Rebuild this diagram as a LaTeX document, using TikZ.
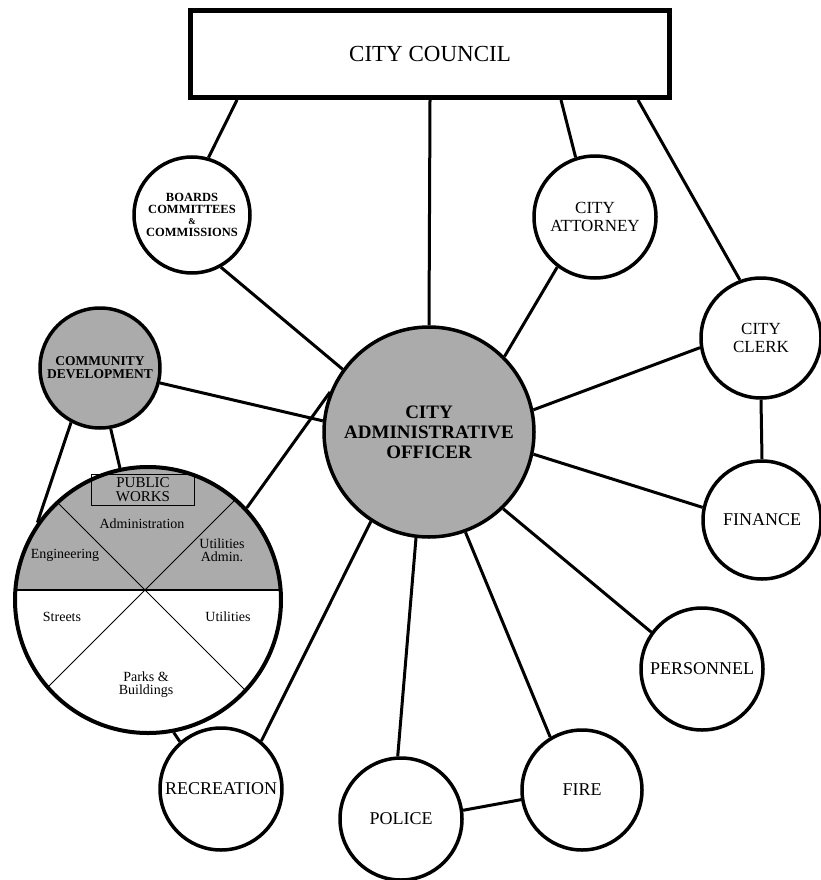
\documentclass[tikz,border=0pt]{standalone}
\usepackage{fontspec}
\setmainfont{Liberation Serif}

\begin{document}
\begin{tikzpicture}[x=1pt,y=-1pt,line width=3pt,
  unit node/.style={circle,draw,fill=white,line width=3.5pt,inner sep=0pt,align=center,font=\fontsize{18}{15.5}\selectfont},
  shaded node/.style={unit node,fill=black!33},
  part text/.style={inner sep=0pt,align=center,font=\fontsize{14}{13}\selectfont}]
  \useasboundingbox (0,0) rectangle (820,880);

  % the upper half of public works is shaded
  \begin{scope}
    \clip (148,600) circle (133pt);
    \fill[black!33] (0,400) rectangle (300,590);
    \draw[line width=2pt] (0,590) -- (300,590);
    \draw[line width=1pt] (145,590) ++(-150,-150) -- ++(300,300);
    \draw[line width=1pt] (145,590) ++(-150,150) -- ++(300,-300);
  \end{scope}

  \node[draw,line width=5pt,minimum width=479pt,minimum height=87pt,font=\fontsize{23}{23}\selectfont] (council) at (430,54) {CITY COUNCIL};
  \node[unit node,minimum size=116pt,font=\bfseries\fontsize{12.5}{11.5}\selectfont] (boards) at (192,215) {BOARDS\\COMMITTEES\\{\fontsize{9}{9}\selectfont\&}\\COMMISSIONS};
  \node[unit node,minimum size=122pt,font=\fontsize{17}{17.5}\selectfont] (attorney) at (595,217) {CITY\\ATTORNEY};
  \node[unit node,minimum size=120pt,font=\fontsize{17}{17.5}\selectfont] (clerk) at (761,338) {CITY\\CLERK};
  \node[shaded node,minimum size=120pt,font=\bfseries\fontsize{13.5}{13}\selectfont] (cd) at (100,368) {COMMUNITY\\DEVELOPMENT};
  \node[shaded node,minimum size=210pt,font=\bfseries\fontsize{19}{20}\selectfont] (cao) at (429,432) {CITY\\ADMINISTRATIVE\\OFFICER};
  \node[unit node,minimum size=118pt] (finance) at (762,520) {FINANCE};
  \node[unit node,minimum size=266pt,fill=none,line width=4pt] (pw) at (148,600) {};
  \node[unit node,minimum size=122pt] (personnel) at (702,669) {PERSONNEL};
  \node[unit node,minimum size=122pt] (rec) at (221,789) {RECREATION};
  \node[unit node,minimum size=122pt] (police) at (401,819) {POLICE};
  \node[unit node,minimum size=120pt] (fire) at (582,790) {FIRE};

  % divisions of public works
  \node[draw,line width=1.5pt,minimum width=103pt,minimum height=31pt,inner sep=1pt,align=center,font=\fontsize{15}{14}\selectfont] (pwtitle) at (143,490) {PUBLIC\\WORKS};
  \node[part text] (admin) at (142,524) {Administration};
  \node[part text] (eng) at (65,555) {Engineering};
  \node[part text] (utiladmin) at (222,550) {Utilities\\Admin.};
  \node[part text] (streets) at (62,617) {Streets};
  \node[part text] (util) at (228,617) {Utilities};
  \node[part text] (parks) at (146,685) {Parks \&\\Buildings};

\path
  ([xshift=-193pt]council.south) edge (boards.74)
  (council.south) edge (cao.north)
  ([xshift=131pt]council.south) edge (attorney.108)
  ([xshift=208pt]council.south) edge (clerk.110)
  (boards.-61) edge (cao.144)
  (attorney.-127) edge (cao.45)
  (clerk.189) edge (cao.12)
  (clerk.south) edge (finance.north)
  (cao.-12) edge (finance.168)
  (cao.-46) edge (personnel.144)
  (cao.-70) edge (fire.121)
  (cao.-97) edge (police.93)
  (cao.-123) edge (rec.50)
  (police.8) edge (fire.189)
  (pw.-79) edge (rec.131)
  (cd.-14) edge (cao.174)
  (pw.43) edge (cao.158)
  (cd.-118) edge (pw.145)
  (cd.-80) edge (pw.102)
;
\end{tikzpicture}
\end{document}
